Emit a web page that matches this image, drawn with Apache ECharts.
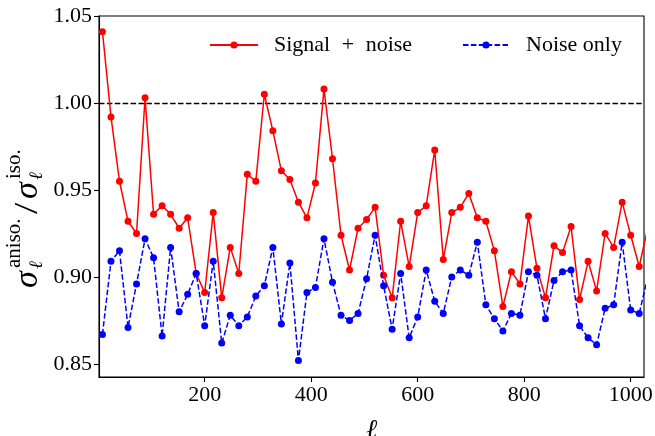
<!DOCTYPE html>
<html>
<head>
<meta charset="utf-8">
<script src="https://cdn.jsdelivr.net/npm/echarts@6/dist/echarts.min.js"></script>
<style>
html,body{margin:0;padding:0;background:#fff;}
#chart{width:655px;height:436px;}
</style>
</head>
<body>
<div id="chart"></div>
<script>
// multipole values
var ells = [8,24,40,56,72,88,104,120,136,152,168,184,200,216,232,248,264,280,296,312,328,344,360,376,392,408,424,440,456,472,488,504,520,536,552,568,584,600,616,632,648,664,680,696,712,728,744,760,776,792,808,824,840,856,872,888,904,920,936,952,968,984,1000,1016,1032];
// Signal + noise ratio
var signalNoise = [1.041,0.992,0.955,0.932,0.925,1.003,0.936,0.941,0.936,0.928,0.934,0.902,0.891,0.937,0.888,0.917,0.902,0.959,0.955,1.005,0.984,0.961,0.956,0.943,0.934,0.954,1.008,0.968,0.924,0.904,0.928,0.933,0.940,0.901,0.888,0.932,0.906,0.937,0.941,0.973,0.910,0.937,0.940,0.948,0.934,0.932,0.915,0.883,0.903,0.896,0.935,0.905,0.888,0.918,0.914,0.929,0.887,0.909,0.892,0.925,0.917,0.943,0.924,0.906,0.928];
// Noise only ratio
var noiseOnly = [0.867,0.909,0.915,0.871,0.896,0.922,0.911,0.866,0.917,0.880,0.890,0.902,0.872,0.909,0.862,0.878,0.872,0.877,0.889,0.895,0.917,0.873,0.908,0.852,0.891,0.894,0.922,0.897,0.878,0.875,0.879,0.899,0.924,0.895,0.870,0.902,0.865,0.877,0.904,0.886,0.879,0.900,0.904,0.901,0.920,0.884,0.876,0.869,0.879,0.878,0.903,0.901,0.876,0.898,0.903,0.904,0.872,0.865,0.861,0.882,0.884,0.920,0.881,0.879,0.900];
var xTicks = [200,400,600,800,1000];
var yTicks = [0.85,0.90,0.95,1.00,1.05];
var refLevel = 1.0;
var seriesNames = ['Signal + noise','Noise only'];

function pairs(xs, ys){ return xs.map(function(x,i){ return [x, ys[i]]; }); }

var SERIF = '"Liberation Serif","DejaVu Serif",serif';
var chart = echarts.init(document.getElementById('chart'), null, {renderer:'canvas'});
var dash = [5.5, 2.4];

function lbl(text, x, y, font, sx){
  return {type:'text', x: x, y: y, rotation: Math.PI/2, scaleX: sx || 1, silent:true,
    style:{text:text, font:font, fill:'#000', align:'left', verticalAlign:'middle', textAlign:'left', textVerticalAlign:'middle'}};
}

var option = {
  animation: false,
  backgroundColor: '#fff',
  grid: {left: 99, right: 11, top: 16, bottom: 59, outerBoundsMode: 'none', containLabel: false,
         show: true, borderColor: '#000', borderWidth: 1.1, backgroundColor: 'transparent'},
  xAxis: {
    type: 'value', min: 1.5, max: 1025,
    axisLine: {show: true, onZero: false, lineStyle: {color: '#000', width: 1.1}},
    axisTick: {show: true, length: 5, customValues: xTicks, lineStyle: {color: '#000', width: 1.1}},
    axisLabel: {customValues: xTicks, color: '#000', fontFamily: SERIF, fontSize: 22, margin: 7,
      formatter: function(v){ return String(Math.round(v)); }},
    splitLine: {show: false},
    name: '\u2113', nameLocation: 'middle', nameGap: 40,
    nameTextStyle: {fontFamily: SERIF, fontStyle: 'italic', fontSize: 27, color: '#000'}
  },
  yAxis: {
    type: 'value', min: 0.8425, max: 1.05,
    axisLine: {show: true, onZero: false, lineStyle: {color: '#000', width: 1.1}},
    axisTick: {show: true, length: 5, customValues: yTicks, lineStyle: {color: '#000', width: 1.1}},
    axisLabel: {customValues: yTicks, color: '#000', fontFamily: SERIF, fontSize: 22, margin: 7,
      formatter: function(v){ return Number(v).toFixed(2); }},
    splitLine: {show: false}
  },
  legend: [
    {data: [seriesNames[0]], left: 209, top: 34, padding: 0, itemWidth: 48, itemHeight: 9, itemGap: 0,
     formatter: function(){ return 'Signal {p|+} noise'; },
     textStyle: {fontFamily: SERIF, fontSize: 22, color: '#000', padding: [0,0,0,11],
       rich: {p: {fontFamily: SERIF, fontSize: 22, color: '#000', padding: [0,6,0,6]}}}},
    {data: [seriesNames[1]], left: 462, top: 34, padding: 0, itemWidth: 46, itemHeight: 9, itemGap: 0,
     textStyle: {fontFamily: SERIF, fontSize: 22, color: '#000', padding: [0,0,0,12]}}
  ],
  series: [
    {
      name: seriesNames[0], type: 'line', data: pairs(ells, signalNoise),
      symbol: 'circle', symbolSize: 7, showSymbol: true, clip: true,
      color: '#ff0000',
      lineStyle: {color: '#ff0000', width: 1.5},
      itemStyle: {color: '#ff0000'},
      z: 3,
      markLine: {
        silent: true, symbol: 'none', label: {show: false},
        lineStyle: {color: '#000', type: dash, width: 1.4},
        data: [{yAxis: refLevel}], z: 2
      }
    },
    {
      name: seriesNames[1], type: 'line', data: pairs(ells, noiseOnly),
      symbol: 'circle', symbolSize: 7, showSymbol: true, clip: true,
      color: '#0000ff',
      lineStyle: {color: '#0000ff', width: 1.5, type: dash},
      itemStyle: {color: '#0000ff'},
      z: 4
    }
  ],
  graphic: [
    lbl('\u03c3', 28, 288, 'italic 34px ' + SERIF),
    lbl('\u2113', 37, 269, 'italic 19px ' + SERIF),
    lbl('aniso.', 14, 268, '21px ' + SERIF),
    lbl('/', 28, 214, '34px ' + SERIF, 1.2),
    lbl('\u03c3', 28, 199, 'italic 34px ' + SERIF),
    lbl('\u2113', 37, 180, 'italic 19px ' + SERIF),
    lbl('iso.', 14, 179, '21px ' + SERIF)
  ]
};
chart.setOption(option);
</script>
</body>
</html>
